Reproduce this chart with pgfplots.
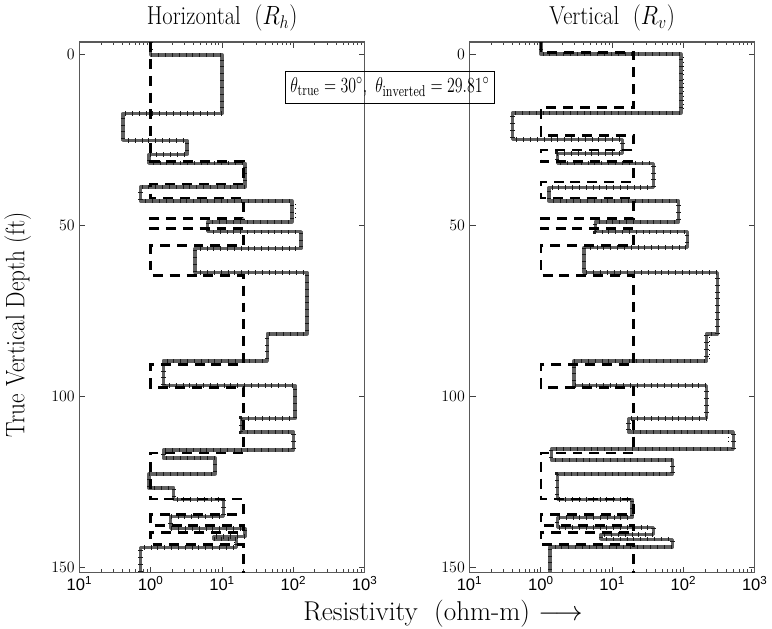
\documentclass[border=0pt]{standalone}
\usepackage{fontspec}
\setsansfont{Liberation Sans}
\usepackage{graphicx}
\usepackage{pgfplots}
\pgfplotsset{compat=1.18}

\pgfplotstableread{
x y
1 -3.5
1 31.3
20 31.3
20 38
1 38
1 42
20 42
20 48.1
1 48.1
1 51
20 51
20 56
1 56
1 64.6
20 64.6
20 90.7
1 90.7
1 97.4
20 97.4
20 116.5
1 116.5
1 130
20 130
20 134.5
1 134.5
1 137.7
20 137.7
20 139.7
1 139.7
1 143.2
20 143.2
20 151.5
}\trueRh

\pgfplotstableread{
x y
1 -3.5
1 0.3
10 0.3
10 17.4
0.41 17.4
0.41 25.2
3.2 25.2
3.2 29.3
0.95 29.3
0.95 31.9
21 31.9
21 38.8
0.72 38.8
0.72 42.9
95 42.9
95 49.0
6.3 49.0
6.3 51.9
127 51.9
127 56.8
4.2 56.8
4.2 63.8
155 63.8
155 81.7
43 81.7
43 89.6
1.5 89.6
1.5 96.8
105 96.8
105 106.4
18.6 106.4
18.6 110.4
100 110.4
100 115.7
1.5 115.7
1.5 118.0
8 118.0
8 122.6
0.94 122.6
0.94 126.7
2.1 126.7
2.1 130.1
10.5 130.1
10.5 135.1
1.9 135.1
1.9 138.6
21 138.6
21 140.9
7.6 140.9
7.6 141.7
16 141.7
16 144.1
0.72 144.1
0.72 151.5
}\invRh

\pgfplotstableread{
x y
1 -3.5
1 -0.5
20 -0.5
20 15.7
1 15.7
1 23.8
20 23.8
20 28
1 28
1 31.3
20 31.3
20 37.4
1 37.4
1 42
20 42
20 48.1
1 48.1
1 51
20 51
20 56
1 56
1 64.6
20 64.6
20 90.7
1 90.7
1 97.4
20 97.4
20 116.5
1 116.5
1 130
20 130
20 134.5
1 134.5
1 137.7
20 137.7
20 139.7
1 139.7
1 143.2
20 143.2
20 151.5
}\trueRv

\pgfplotstableread{
x y
1 -3.5
1 0
92 0
92 17.2
0.4 17.2
0.4 25
14 25
14 29
1.7 29
1.7 31.9
38 31.9
38 39
1.3 39
1.3 42.9
85 42.9
85 49
5.8 49
5.8 51.9
113 51.9
113 56.5
4 56.5
4 63.8
300 63.8
300 81.7
210 81.7
210 89.6
2.9 89.6
2.9 96.8
210 96.8
210 106.4
17 106.4
17 110.4
500 110.4
500 115.4
1.4 115.4
1.4 118.5
70 118.5
70 122.6
1.7 122.6
1.7 130.1
19 130.1
19 135.4
1.7 135.4
1.7 138.3
38 138.3
38 140.3
7 140.3
7 141.7
70 141.7
70 144
1.35 144
1.35 151.5
}\invRv

\pgfplotstableread{
x y
106 43.8
106 48.6
nan nan
15 142.4
15 143.8
}\dotRh

\pgfplotstableread{
x y
100 1.0
100 16.5
nan nan
228 82.6
228 89.0
nan nan
430 111.8
430 114.2
}\dotRv

\pgfplotsset{
  rpanel/.style={
    y dir=reverse,
    scale only axis, width=215pt, height=400pt,
    xmin=0.1, xmax=1000, ymin=-3.5, ymax=151.5,
    xtick={0.1,1,10,100,1000},
    xticklabels={10\textsuperscript{1},10\textsuperscript{0},10\textsuperscript{1},10\textsuperscript{2},10\textsuperscript{3}},
    ytick={0,50,100,150},
    tick align=inside, tick pos=both,
    major tick length=4.5pt, minor tick length=2.5pt,
    axis line style={black!65, line width=0.9pt},
    tick style={black!75, line width=0.6pt},
    tick label style={font=\sffamily\fontsize{12.5}{14}\selectfont},
    xticklabel style={yshift=0.5pt},
    title style={font=\fontsize{17}{20}\selectfont, yshift=-1pt},
    unbounded coords=jump,
  },
}
\tikzset{
  rtrue/.style={black, line width=2pt, dash pattern=on 7.5pt off 5.2pt},
  rinv/.style={black!62, line width=2.6pt, line join=round},
  rinvticks/.style={black!90, line width=3.3pt, dash pattern=on 0.55pt off 4.6pt},
  rdot/.style={black, line width=0.5pt, dash pattern=on 0.6pt off 2.6pt},
}

\begin{document}
\begin{tikzpicture}
\begin{semilogxaxis}[rpanel, at={(0pt,0pt)}, anchor=south west,
  title={\scalebox{1}[1.15]{Horizontal\ \ $(R_h)$}}]
  \addplot[rdot] table {\dotRh};
  \addplot[rinv] table {\invRh};
  \addplot[rinvticks] table {\invRh};
  \addplot[rtrue] table {\trueRh};
\end{semilogxaxis}
\begin{semilogxaxis}[rpanel, at={(294pt,0pt)}, anchor=south west,
  title={\scalebox{1}[1.15]{Vertical\ \ $(R_v)$}}]
  \addplot[rdot] table {\dotRv};
  \addplot[rinv] table {\invRv};
  \addplot[rinvticks] table {\invRv};
  \addplot[rtrue] table {\trueRv};
\end{semilogxaxis}
\node[rotate=90, font=\fontsize{17.5}{20}\selectfont] at (-46.5pt,187pt) {\scalebox{1}[1.15]{True Vertical Depth (ft)}};
\node[font=\fontsize{20.5}{23}\selectfont, inner sep=1pt] at (274pt,-31pt) {Resistivity\ \ (ohm-m)\ $\longrightarrow$};
\node[draw=black, line width=0.6pt, inner xsep=4pt, inner ysep=5pt, font=\fontsize{12.5}{14}\selectfont] at (234pt,366pt)
  {\scalebox{1}[1.35]{$\theta_{\mathrm{true}} = 30^{\circ},\ \theta_{\mathrm{inverted}} = 29.81^{\circ}$}};
\end{tikzpicture}
\end{document}
